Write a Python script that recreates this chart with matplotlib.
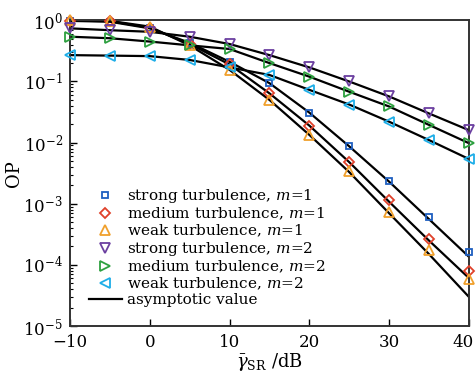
import numpy as np
import matplotlib
matplotlib.use("Agg")
import matplotlib.pyplot as plt
from matplotlib.transforms import ScaledTranslation

plt.rcParams["font.family"] = ["DejaVu Serif"]
plt.rcParams["mathtext.fontset"] = "dejavuserif"

snr_db = [-10, -5, 0, 5, 10, 15, 20, 25, 30, 35, 40]

# simulated points
strong_m1 = [0.98, 0.95, 0.74, 0.43, 0.21, 0.094, 0.031, 0.0089, 0.0024, 6.0e-4, 1.6e-4]
medium_m1 = [0.99, 0.97, 0.76, 0.41, 0.19, 0.064, 0.019, 0.0049, 0.00115, 2.7e-4, 7.8e-5]
weak_m1 = [1.0, 0.98, 0.79, 0.39, 0.155, 0.050, 0.0134, 0.0034, 7.2e-4, 1.75e-4, 5.8e-5]
strong_m2 = [0.74, 0.69, 0.65, 0.54, 0.41, 0.27, 0.17, 0.10, 0.057, 0.030, 0.016]
medium_m2 = [0.54, 0.51, 0.45, 0.39, 0.34, 0.20, 0.12, 0.068, 0.039, 0.0195, 0.0098]
weak_m2 = [0.27, 0.265, 0.26, 0.225, 0.17, 0.128, 0.073, 0.042, 0.022, 0.011, 0.0054]

# asymptotic curves
asym_strong_m1 = [0.98, 0.95, 0.74, 0.43, 0.21, 0.094, 0.031, 0.0087, 0.0023, 5.6e-4, 1.36e-4]
asym_medium_m1 = [0.99, 0.97, 0.76, 0.41, 0.19, 0.064, 0.019, 0.0048, 0.00108, 2.5e-4, 6.1e-5]
asym_weak_m1 = [1.0, 0.98, 0.79, 0.39, 0.155, 0.050, 0.0134, 0.0033, 7.0e-4, 1.5e-4, 3.0e-5]
asym_strong_m2 = strong_m2
asym_medium_m2 = medium_m2
asym_weak_m2 = weak_m2

series = [
    (strong_m1, asym_strong_m1, "s", "#1f5fc0", "strong turbulence, $m$=1"),
    (medium_m1, asym_medium_m1, "D", "#e0402a", "medium turbulence, $m$=1"),
    (weak_m1, asym_weak_m1, "^", "#f0a02c", "weak turbulence, $m$=1"),
    (strong_m2, asym_strong_m2, "v", "#6b3fa0", "strong turbulence, $m$=2"),
    (medium_m2, asym_medium_m2, ">", "#2ea040", "medium turbulence, $m$=2"),
    (weak_m2, asym_weak_m2, "<", "#1eaee8", "weak turbulence, $m$=2"),
]

fig = plt.figure(figsize=(4.76, 3.84), dpi=100)
ax = fig.add_axes([0.147, 0.151, 0.838, 0.796])

for pts, asym, mk, col, lab in series:
    ax.plot(snr_db, asym, color="black", lw=1.6, zorder=2)
for pts, asym, mk, col, lab in series:
    ms = 5 if mk in ("s", "D") else 6.5
    ax.plot(snr_db, pts, linestyle="none", marker=mk, ms=ms, mfc="none",
            mec=col, mew=1.3, label=lab, zorder=3, clip_on=False)
ax.plot([], [], color="black", lw=1.6, label="asymptotic value")

ax.set_yscale("log")
ax.set_xlim(-10, 40)
ax.set_ylim(1e-5, 1)
ax.set_xticks([-10, 0, 10, 20, 30, 40])
ax.set_xticklabels(["\u221210", "0", "10", "20", "30", "40"])
ax.tick_params(which="both", direction="in", top=False, right=False, labelsize=12)
ax.tick_params(axis="x", pad=6)
ax.tick_params(axis="y", pad=5)
ax.tick_params(which="major", length=5, width=1)
ax.tick_params(which="minor", length=2.5, width=0.8)
for s in ax.spines.values():
    s.set_linewidth(1.4)
    s.set_color("#333333")

# nudge the last x tick label so it stays inside the figure
last = ax.get_xticklabels()[-1]
last.set_transform(last.get_transform() + ScaledTranslation(-6 / 100, 0, fig.dpi_scale_trans))

ax.set_xlabel(r"$\bar{\gamma}_{\rm SR}$ /dB", fontsize=13, labelpad=0)
ax.set_ylabel("OP", fontsize=13, labelpad=0)

ax.legend(loc="lower left", bbox_to_anchor=(0.02, 0.027), frameon=False,
          fontsize=11, handlelength=2.2, handletextpad=0.3, labelspacing=0.05,
          borderaxespad=0.3)

fig.savefig("out.png", dpi=100)
